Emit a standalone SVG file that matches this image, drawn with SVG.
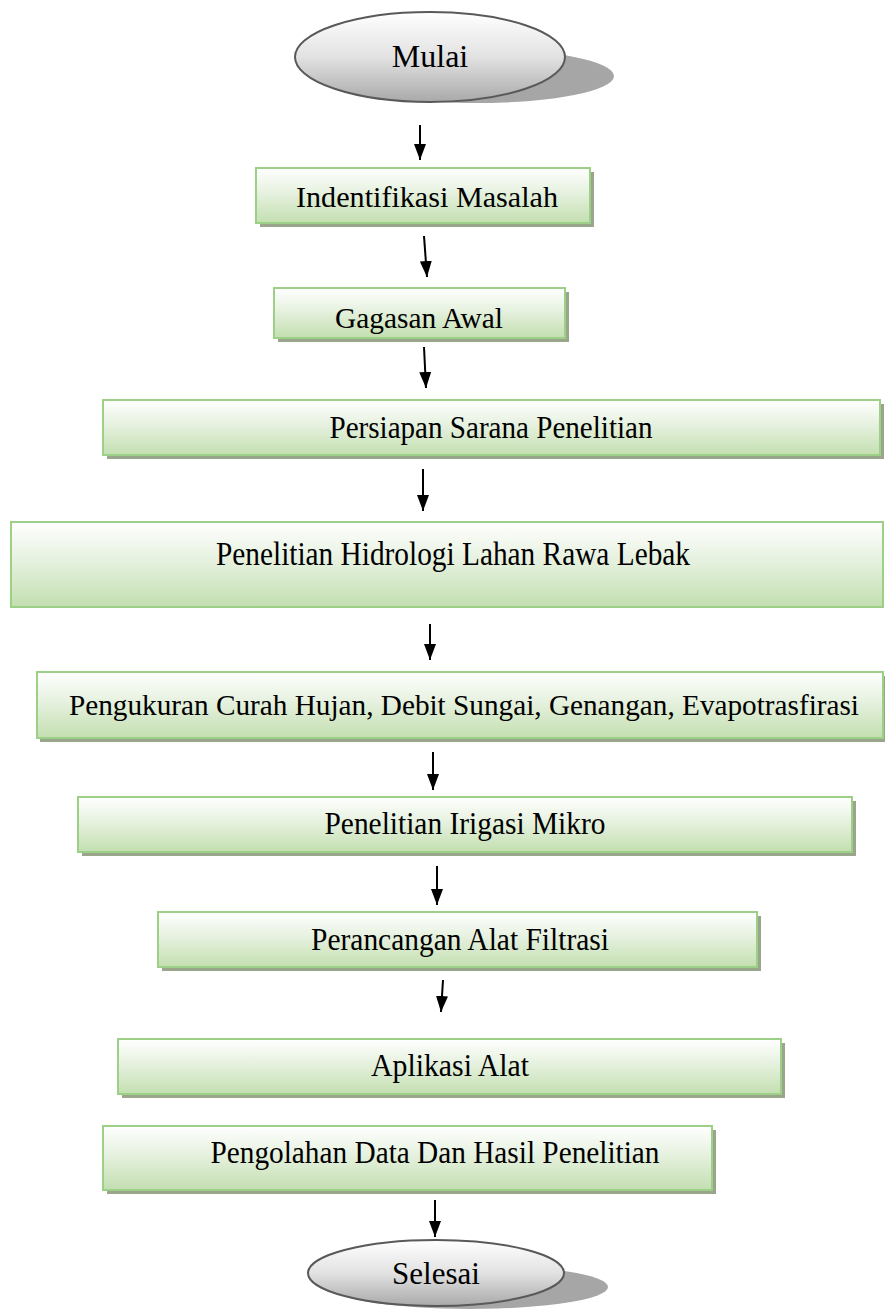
<svg xmlns="http://www.w3.org/2000/svg" width="885" height="1313" viewBox="0 0 885 1313">
<defs>
<linearGradient id="gbox" x1="0" y1="0" x2="0" y2="1">
<stop offset="0" stop-color="#ffffff"/>
<stop offset="0.45" stop-color="#e6f1df"/>
<stop offset="1" stop-color="#c3dfb0"/>
</linearGradient>
<linearGradient id="gell" x1="0" y1="0" x2="0" y2="1">
<stop offset="0" stop-color="#ffffff"/>
<stop offset="0.5" stop-color="#e2e2e2"/>
<stop offset="1" stop-color="#a9a9a9"/>
</linearGradient>
<marker id="ah" markerWidth="16" markerHeight="12" refX="16" refY="6" orient="auto" markerUnits="userSpaceOnUse" viewBox="0 0 16 12">
<path d="M0,0 L16,6 L0,12 Z" fill="#000"/>
</marker>
</defs>
<style>
.box{fill:url(#gbox);stroke:#9dd087;stroke-width:2}
.sh{fill:#9aa68c}
.ell{fill:url(#gell);stroke:#595959;stroke-width:2}
.esh{fill:#a6a6a6}
.t{font-family:"Liberation Serif","Times New Roman",serif;fill:#000;text-anchor:middle}
.arr{stroke:#000;stroke-width:2;fill:none;marker-end:url(#ah)}
</style>
<rect width="885" height="1313" fill="#ffffff"/>

<g id="connectors">
<line class="arr" x1="420" y1="125" x2="420" y2="160"/>
<line class="arr" x1="424" y1="236" x2="427" y2="277"/>
<line class="arr" x1="424" y1="347" x2="426" y2="388"/>
<line class="arr" x1="423" y1="469" x2="423" y2="511"/>
<line class="arr" x1="430" y1="624" x2="430" y2="660"/>
<line class="arr" x1="433" y1="752" x2="433" y2="790"/>
<line class="arr" x1="437" y1="866" x2="437" y2="905"/>
<line class="arr" x1="443" y1="980" x2="441" y2="1012"/>
<line class="arr" x1="435" y1="1200" x2="435" y2="1237"/>
</g>

<g id="n-mulai">
<ellipse class="esh" cx="478" cy="76" rx="136" ry="27"/>
<ellipse class="ell" cx="430" cy="57" rx="135" ry="45"/>
<text class="t" x="430" y="67" font-size="32">Mulai</text>
</g>

<g id="n-identifikasi">
<rect class="sh" x="260" y="172" width="334" height="55"/>
<rect class="box" x="256" y="168" width="334" height="55"/>
<text class="t" x="427" y="207" font-size="30" textLength="262" lengthAdjust="spacingAndGlyphs">Indentifikasi Masalah</text>
</g>

<g id="n-gagasan">
<rect class="sh" x="278" y="292" width="291" height="50"/>
<rect class="box" x="274" y="288" width="291" height="50"/>
<text class="t" x="419" y="328" font-size="29" textLength="168" lengthAdjust="spacingAndGlyphs">Gagasan Awal</text>
</g>

<g id="n-persiapan">
<rect class="sh" x="107" y="404" width="777" height="55"/>
<rect class="box" x="103" y="400" width="777" height="55"/>
<text class="t" x="491" y="438" font-size="32" textLength="323" lengthAdjust="spacingAndGlyphs">Persiapan Sarana Penelitian</text>
</g>

<g id="n-hidrologi">
<rect class="box" x="11" y="522" width="872" height="85"/>
<text class="t" x="453" y="565" font-size="33" textLength="474" lengthAdjust="spacingAndGlyphs">Penelitian Hidrologi Lahan Rawa Lebak</text>
</g>

<g id="n-pengukuran">
<rect class="sh" x="40" y="676" width="845" height="66"/>
<rect class="box" x="37" y="672" width="846" height="66"/>
<text class="t" x="464" y="715" font-size="29.5" textLength="790" lengthAdjust="spacingAndGlyphs">Pengukuran Curah Hujan, Debit Sungai, Genangan, Evapotrasfirasi</text>
</g>

<g id="n-irigasi">
<rect class="sh" x="82" y="801" width="774" height="55"/>
<rect class="box" x="78" y="797" width="774" height="55"/>
<text class="t" x="465" y="834" font-size="32" textLength="281" lengthAdjust="spacingAndGlyphs">Penelitian Irigasi Mikro</text>
</g>

<g id="n-perancangan">
<rect class="sh" x="162" y="916" width="599" height="55"/>
<rect class="box" x="158" y="912" width="599" height="55"/>
<text class="t" x="460" y="950" font-size="32" textLength="298" lengthAdjust="spacingAndGlyphs">Perancangan Alat Filtrasi</text>
</g>

<g id="n-aplikasi">
<rect class="sh" x="122" y="1043" width="663" height="55"/>
<rect class="box" x="118" y="1039" width="663" height="55"/>
<text class="t" x="450" y="1076" font-size="31" textLength="158" lengthAdjust="spacingAndGlyphs">Aplikasi Alat</text>
</g>

<g id="n-pengolahan">
<rect class="sh" x="107" y="1130" width="609" height="64"/>
<rect class="box" x="103" y="1126" width="609" height="64"/>
<text class="t" x="435" y="1163" font-size="31" textLength="449" lengthAdjust="spacingAndGlyphs">Pengolahan Data Dan Hasil Penelitian</text>
</g>

<g id="n-selesai">
<ellipse class="esh" cx="470" cy="1287" rx="138" ry="22"/>
<ellipse class="ell" cx="436" cy="1273" rx="128" ry="33"/>
<text class="t" x="436" y="1284" font-size="31">Selesai</text>
</g>
</svg>
